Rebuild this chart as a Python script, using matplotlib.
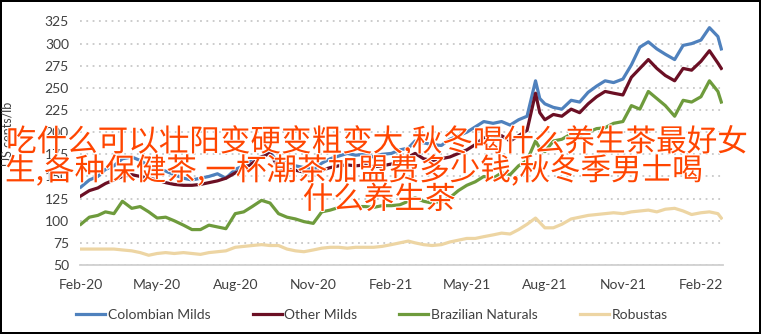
import matplotlib
matplotlib.use("Agg")
import matplotlib.pyplot as plt
import matplotlib.patheffects as pe
import pandas as pd

# sample dates (roughly every 10 days)
dates = pd.to_datetime([
    "2020-02-01", "2020-02-11", "2020-02-21", "2020-03-01", "2020-03-11", "2020-03-21",
    "2020-04-01", "2020-04-11", "2020-04-21", "2020-05-01", "2020-05-11", "2020-05-21",
    "2020-06-01", "2020-06-11", "2020-06-21", "2020-07-01", "2020-07-11", "2020-07-21",
    "2020-08-01", "2020-08-11", "2020-08-21", "2020-09-01", "2020-09-11", "2020-09-21",
    "2020-10-01", "2020-10-11", "2020-10-21", "2020-11-01", "2020-11-11", "2020-11-21",
    "2020-12-01", "2020-12-11", "2020-12-21", "2021-01-01", "2021-01-11", "2021-01-21",
    "2021-02-01", "2021-02-11", "2021-02-21", "2021-03-01", "2021-03-11", "2021-03-21",
    "2021-04-01", "2021-04-11", "2021-04-21", "2021-05-01", "2021-05-11", "2021-05-21",
    "2021-06-01", "2021-06-11", "2021-06-21", "2021-07-01", "2021-07-11", "2021-07-21",
    "2021-07-26", "2021-08-01", "2021-08-11", "2021-08-21", "2021-09-01", "2021-09-11",
    "2021-09-21", "2021-10-01", "2021-10-11", "2021-10-21", "2021-11-01", "2021-11-11",
    "2021-11-21", "2021-12-01", "2021-12-11", "2021-12-21", "2022-01-01", "2022-01-11",
    "2022-01-21", "2022-02-01", "2022-02-11", "2022-02-21", "2022-02-25",
])

colombian = [138, 146, 150, 158, 162, 170, 172, 168, 162, 158, 156, 152,
             148, 146, 148, 150, 153, 148, 158, 162, 170, 172, 178, 164,
             166, 162, 160, 158, 165, 170, 173, 176, 174, 175, 172, 175,
             176, 180, 182, 190, 188, 186, 185, 192, 196, 200, 206, 212,
             210, 212, 208, 214, 218, 258, 238, 232, 228, 226, 236, 234,
             245, 252, 258, 256, 260, 276, 296, 302, 294, 288, 282, 298,
             300, 304, 318, 308, 294]
other_milds = [128, 134, 137, 142, 146, 150, 152, 150, 148, 146, 143, 141,
               140, 140, 141, 143, 145, 148, 154, 158, 165, 172, 176, 160,
               158, 157, 155, 156, 157, 160, 162, 163, 162, 163, 161, 162,
               164, 165, 172, 176, 170, 168, 170, 172, 176, 180, 186, 194,
               192, 196, 190, 196, 202, 244, 222, 214, 220, 218, 226, 222,
               232, 240, 246, 244, 242, 262, 272, 282, 272, 264, 258, 272,
               270, 280, 292, 278, 272]
brazilian = [96, 104, 106, 110, 108, 122, 114, 116, 110, 103, 104, 100,
             95, 90, 90, 95, 93, 91, 108, 110, 116, 123, 120, 108,
             104, 102, 99, 97, 110, 112, 115, 116, 116, 116, 115, 117,
             117, 118, 122, 126, 122, 120, 122, 126, 134, 140, 144, 150,
             148, 154, 152, 162, 168, 190, 182, 178, 190, 192, 198, 196,
             200, 204, 205, 210, 212, 230, 226, 246, 238, 230, 218, 236,
             234, 240, 258, 246, 234]
robustas = [68, 68, 68, 68, 68, 67, 66, 64, 61, 63, 64, 63,
            64, 63, 62, 64, 65, 66, 70, 71, 72, 73, 72, 72,
            68, 66, 65, 67, 69, 70, 70, 69, 70, 70, 70, 71,
            73, 75, 77, 75, 73, 72, 73, 76, 78, 80, 80, 82,
            84, 86, 85, 90, 96, 103, 98, 92, 92, 96, 102, 104,
            106, 107, 108, 109, 108, 110, 111, 112, 110, 113, 114, 111,
            107, 109, 110, 108, 103]

series_names = ["Colombian Milds", "Other Milds", "Brazilian Naturals", "Robustas"]
series_colors = ["#4F81BD", "#6B0F24", "#6E9B3C", "#EDD5A3"]
tick_dates = pd.date_range("2020-02-01", "2022-02-01", freq="3MS")

overlay = ["吃什么可以壮阳变硬变粗变大,秋冬喝什么养生茶最好女",
           "生,各种保健茶,一杯潮茶加盟费多少钱,秋冬季男士喝",
           "什么养生茶"]

plt.rcParams['font.family'] = ['Lato', 'DejaVu Sans']

fig = plt.figure(figsize=(7.61, 3.34), dpi=100)
fig.patch.set_edgecolor("black")
fig.patch.set_linewidth(1.5)
ax = fig.add_axes([80 / 761, 69 / 334, 643 / 761, 263 / 334])

for vals, name, col in zip([colombian, other_milds, brazilian, robustas],
                           series_names, series_colors):
    ax.plot(dates, vals, color=col, lw=2.3, label=name, solid_joinstyle="round")

ax.set_ylim(50, 347)
ax.set_xlim(pd.Timestamp("2020-01-31"), pd.Timestamp("2022-02-27"))
ax.set_yticks(range(50, 326, 25))
ax.set_xticks(tick_dates)
ax.set_xticklabels([d.strftime("%b-%y") for d in tick_dates])
ax.grid(axis="y", color="#C8C8C8", linestyle=(0, (1, 2.5)), lw=1.3)
ax.set_axisbelow(True)
for s in ["top", "right", "left"]:
    ax.spines[s].set_visible(False)
ax.spines["bottom"].set_color("#D0D0D0")
ax.spines["bottom"].set_linewidth(1.3)
ax.tick_params(axis="both", length=0, labelsize=10, colors="#404040", pad=8)
ax.tick_params(axis="x", pad=10)
ax.set_ylabel("US cents/lb", fontsize=9, color="#404040", labelpad=22)

fig.legend(loc="center", bbox_to_anchor=(372 / 761, 0.057), ncol=4, frameon=False,
           fontsize=10, handlelength=2.1, handletextpad=0.2, columnspacing=3.0,
           labelcolor="#404040")

stroke = [pe.withStroke(linewidth=1.5, foreground="white")]
cjk = ["Noto Sans CJK SC", "DejaVu Sans"]
fig.text(6 / 761, 1 - 142 / 334, overlay[0], fontsize=22, color="#FF4500",
         family=cjk, ha="left", va="center", path_effects=stroke)
fig.text(5 / 761, 1 - 171 / 334, overlay[1], fontsize=22, color="#FF4500",
         family=cjk, ha="left", va="center", path_effects=stroke)
fig.text(379 / 761, 1 - 200 / 334, overlay[2], fontsize=22, color="#FF4500",
         family=cjk, ha="center", va="center", path_effects=stroke)

fig.savefig("out.png", dpi=100)
